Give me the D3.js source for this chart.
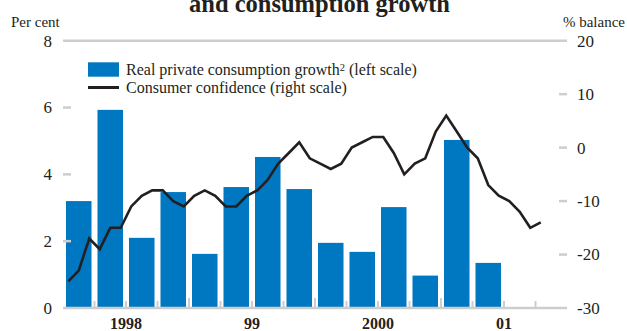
<!DOCTYPE html>
<html>
<head>
<meta charset="utf-8">
<script src="https://cdn.jsdelivr.net/npm/d3@7"></script>
<style>
  html, body { margin: 0; padding: 0; background: #fff; }
  svg { display: block; }
  text { font-family: "Liberation Serif", "Times New Roman", serif; fill: #231f20; }
</style>
</head>
<body>
<svg id="chart" width="627" height="331"></svg>
<script>
// Quarterly periods, 1998 Q1 to 2001 Q4
const quarters = [
  "1998Q1","1998Q2","1998Q3","1998Q4",
  "1999Q1","1999Q2","1999Q3","1999Q4",
  "2000Q1","2000Q2","2000Q3","2000Q4",
  "2001Q1","2001Q2","2001Q3","2001Q4"
];
// Real private consumption growth, per cent (left scale)
const consumptionGrowth = [3.2, 5.93, 2.1, 3.47, 1.62, 3.62, 4.52, 3.56, 1.95, 1.68, 3.02, 0.97, 5.03, 1.35];
// Consumer confidence, % balance, monthly from Jan 1998 (right scale)
const confidence = [
  -25, -23, -17, -19, -15, -15, -11, -9, -8, -8, -10, -11,
  -9, -8, -9, -11, -11, -9, -8, -6, -3, -1, 1, -2,
  -3, -4, -3, 0, 1, 2, 2, -1, -5, -3, -2, 3,
  6, 3, 0, -2, -7, -9, -10, -12, -15, -14
];
const yearLabels = ["1998", "99", "2000", "01"];
const leftTicks = [0, 2, 4, 6, 8];
const rightTicks = [-30, -20, -10, 0, 10, 20];

const blue = "#0078c1";
const ink = "#231f20";
const grid = "#cdcdcd";

const svg = d3.select("#chart");
const L = 63, R = 567, T = 40.7, B = 308;

const x = d3.scaleBand().domain(quarters).range([L, R]).paddingInner(0.19).paddingOuter(0.095);
const xMonth = d3.scaleLinear().domain([0, 48]).range([L, R]);
const xYear = d3.scaleBand().domain(yearLabels).range([L, R]);
const yL = d3.scaleLinear().domain([0, 8]).range([B, T]);
const yR = d3.scaleLinear().domain([-30, 20]).range([B, T]);

// Title (continuation line, running off the top edge)
svg.append("text")
  .attr("x", 319.5).attr("y", 12)
  .attr("text-anchor", "middle")
  .style("font-size", "24.5px").style("font-weight", "bold")
  .text("and consumption growth");

// Axis unit captions
svg.append("text").attr("x", 11).attr("y", 26.5)
  .style("font-size", "15px").text("Per cent");
svg.append("text").attr("x", 625).attr("y", 26.5)
  .attr("text-anchor", "end")
  .style("font-size", "15px").text("% balance");

// Bars
svg.append("g").selectAll("rect")
  .data(consumptionGrowth)
  .join("rect")
  .attr("x", (d, i) => x(quarters[i]))
  .attr("width", x.bandwidth())
  .attr("y", d => yL(d))
  .attr("height", d => yL(0) - yL(d))
  .attr("fill", blue);

// Frame lines (top and bottom) and short ticks on both sides
const gAxes = svg.append("g").attr("stroke", grid).attr("stroke-width", 2.5);
[8, 0].forEach(v => {
  gAxes.append("line").attr("x1", L).attr("x2", R)
    .attr("y1", yL(v)).attr("y2", yL(v));
});
leftTicks.filter(v => v > 0 && v < 8).forEach(v => {
  gAxes.append("line").attr("x1", L).attr("x2", L + 8)
    .attr("y1", yL(v)).attr("y2", yL(v));
});
rightTicks.filter(v => v > -30 && v < 20).forEach(v => {
  gAxes.append("line").attr("x1", R - 8).attr("x2", R)
    .attr("y1", yR(v)).attr("y2", yR(v));
});

// Quarter boundary ticks on the baseline (taller at year boundaries)
const gX = svg.append("g").attr("stroke", grid).attr("stroke-width", 2);
d3.range(1, quarters.length).forEach(q => {
  const xx = x.step() * q + L;
  const h = q % 4 === 0 ? 10 : 7;
  gX.append("line").attr("x1", xx).attr("x2", xx)
    .attr("y1", B).attr("y2", B - h);
});

// Left axis labels
svg.append("g").selectAll("text")
  .data(leftTicks).join("text")
  .attr("x", 52).attr("y", d => yL(d))
  .attr("dy", "0.35em")
  .attr("text-anchor", "end")
  .style("font-size", "17px")
  .text(d => d);

// Right axis labels
svg.append("g").selectAll("text")
  .data(rightTicks).join("text")
  .attr("x", 577).attr("y", d => yR(d))
  .attr("dy", "0.35em")
  .style("font-size", "17px")
  .text(d => d);

// Year labels
svg.append("g").selectAll("text")
  .data(yearLabels).join("text")
  .attr("x", d => xYear(d) + xYear.bandwidth() / 2)
  .attr("y", 329)
  .attr("text-anchor", "middle")
  .style("font-size", "16px").style("font-weight", "bold")
  .text(d => d);

// Consumer confidence line
const line = d3.line()
  .x((d, i) => xMonth(i + 0.5))
  .y(d => yR(d));
svg.append("path")
  .datum(confidence)
  .attr("d", line)
  .attr("fill", "none")
  .attr("stroke", ink)
  .attr("stroke-width", 2.6)
  .attr("stroke-linejoin", "miter");

// Legend
const lg = svg.append("g");
lg.append("rect").attr("x", 88).attr("y", 62.3).attr("width", 31).attr("height", 14.4).attr("fill", blue);
lg.append("line").attr("x1", 88).attr("x2", 119).attr("y1", 87.5).attr("y2", 87.5)
  .attr("stroke", ink).attr("stroke-width", 3);
const lt1 = lg.append("text").attr("x", 126).attr("y", 75).style("font-size", "16px");
lt1.append("tspan").text("Real private consumption growth");
lt1.append("tspan").attr("dy", -4).style("font-size", "10.5px").text("2");
lt1.append("tspan").attr("dy", 4).text(" (left scale)");
lg.append("text").attr("x", 126).attr("y", 93).style("font-size", "16px")
  .text("Consumer confidence (right scale)");
</script>
</body>
</html>
